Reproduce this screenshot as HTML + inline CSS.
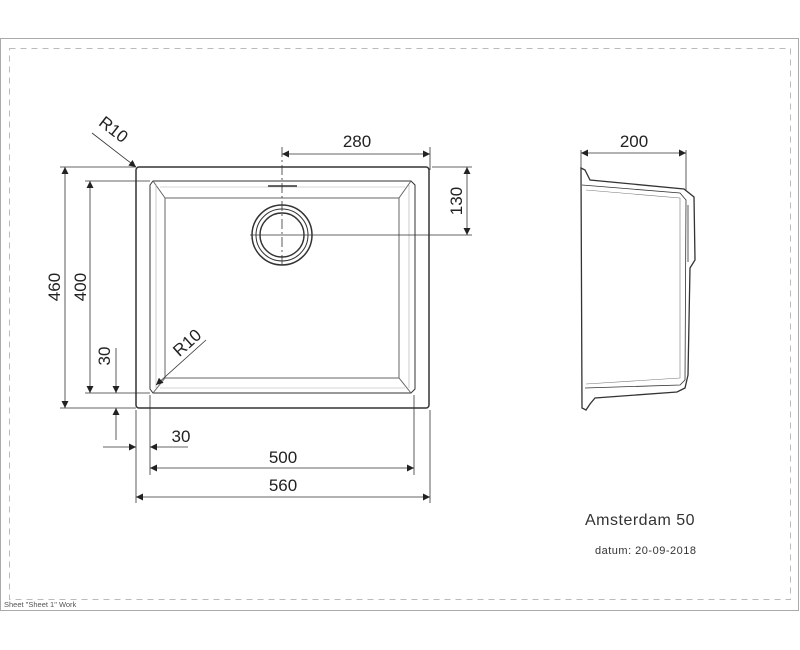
<!DOCTYPE html>
<html><head><style>body{margin:0;background:#fff}svg{display:block}</style></head><body>
<svg width="800" height="650" viewBox="0 0 800 650" xmlns="http://www.w3.org/2000/svg" font-family="Liberation Sans, sans-serif">
<defs><marker id="a" viewBox="0 0 10 10" refX="10" refY="5" markerWidth="12" markerHeight="7" orient="auto-start-reverse" markerUnits="userSpaceOnUse"><path d="M0,0L10,5L0,10z" fill="#222"/></marker></defs>
<rect x="0.5" y="38.5" width="798" height="572" fill="none" stroke="#aaa"/>
<rect x="9.5" y="48.5" width="781" height="551" fill="none" stroke="#bbb" stroke-dasharray="6,5"/>
<g fill="none" stroke="#333" stroke-width="1">
<rect x="136" y="167" width="293" height="241" rx="3" stroke-width="1.5"/>
<path d="M153,181H411L415,185V389L411,393H153L150,389V185Z"/>
<path d="M165,198H399V378H165Z" stroke="#666"/>
<path d="M153,181L165,198M411,181L399,198M411,393L399,378M153,393L165,378" stroke="#666"/>
<path d="M160,187H405M160,388H405M156,185V388M409,185V388" stroke="#aaa" stroke-width="0.6"/>
<line x1="268" y1="186" x2="297" y2="186" stroke-width="1.5"/>
<circle cx="282" cy="235" r="30" stroke-width="1.5"/>
<circle cx="282" cy="235" r="26"/>
<circle cx="282" cy="235" r="22" stroke-width="1.4"/>
</g>
<g stroke="#333" stroke-width="0.8" fill="none">
<line x1="282" y1="147" x2="282" y2="268" stroke-dasharray="10,3,2,3"/>
<line x1="250" y1="235" x2="472" y2="235"/>
<line x1="430" y1="147" x2="430" y2="170"/>
<line x1="432" y1="167" x2="472" y2="167"/>
<line x1="60" y1="167" x2="136" y2="167"/>
<line x1="85" y1="181" x2="150" y2="181"/>
<line x1="60" y1="408" x2="136" y2="408"/>
<line x1="85" y1="393" x2="150" y2="393"/>
<line x1="136" y1="410" x2="136" y2="503"/>
<line x1="150" y1="395" x2="150" y2="475"/>
<line x1="414" y1="395" x2="414" y2="475"/>
<line x1="430" y1="410" x2="430" y2="503"/>
<line x1="282" y1="154" x2="430" y2="154" marker-start="url(#a)" marker-end="url(#a)"/>
<line x1="467" y1="167" x2="467" y2="235" marker-start="url(#a)" marker-end="url(#a)"/>
<line x1="65" y1="167" x2="65" y2="408" marker-start="url(#a)" marker-end="url(#a)"/>
<line x1="90" y1="181" x2="90" y2="393" marker-start="url(#a)" marker-end="url(#a)"/>
<line x1="116" y1="348" x2="116" y2="393" marker-end="url(#a)"/>
<line x1="116" y1="408" x2="116" y2="440" marker-start="url(#a)"/>
<line x1="103" y1="447" x2="136" y2="447" marker-end="url(#a)"/>
<line x1="150" y1="447" x2="188" y2="447" marker-start="url(#a)"/>
<line x1="150" y1="468" x2="414" y2="468" marker-start="url(#a)" marker-end="url(#a)"/>
<line x1="136" y1="497" x2="430" y2="497" marker-start="url(#a)" marker-end="url(#a)"/>
<line x1="92" y1="133" x2="136" y2="167" marker-end="url(#a)"/>
<line x1="206" y1="340" x2="156" y2="385" marker-end="url(#a)"/>
<line x1="581" y1="150" x2="581" y2="170"/>
<line x1="686" y1="150" x2="686" y2="190"/>
<line x1="581" y1="153" x2="686" y2="153" marker-start="url(#a)" marker-end="url(#a)"/>
</g>
<g fill="none" stroke="#333" stroke-width="1.3">
<path d="M581,168L585,170L590,180L684,189L694,197L695,260L690,268L688,375L685,388L677,392L595,398L590,404L586,410L582,408Z"/>
<path d="M582,185L680,193L686,200L685,380L680,385L585,388" stroke-width="0.8"/>
<path d="M586,190L680,198V378L586,384" stroke="#777" stroke-width="0.6"/>
<path d="M688,205V262" stroke-width="0.8"/>
</g>
<g fill="#222" font-size="17">
<text x="357" y="147" text-anchor="middle">280</text>
<text x="462" y="201" text-anchor="middle" transform="rotate(-90 462 201)">130</text>
<text x="60" y="287" text-anchor="middle" transform="rotate(-90 60 287)">460</text>
<text x="86" y="287" text-anchor="middle" transform="rotate(-90 86 287)">400</text>
<text x="110" y="356" text-anchor="middle" transform="rotate(-90 110 356)">30</text>
<text x="181" y="442" text-anchor="middle">30</text>
<text x="283" y="463" text-anchor="middle">500</text>
<text x="283" y="491" text-anchor="middle">560</text>
<text x="634" y="147" text-anchor="middle">200</text>
<text x="110" y="134" text-anchor="middle" transform="rotate(38 110 134)">R10</text>
<text x="191" y="347" text-anchor="middle" transform="rotate(-42 191 347)">R10</text>
<text x="585" y="525" fill="#333" font-size="16" letter-spacing="0.5">Amsterdam 50</text>
<text x="595" y="554" font-size="11" fill="#333" letter-spacing="0.5">datum: 20-09-2018</text>
<text x="4" y="607" font-size="7.5" fill="#555">Sheet "Sheet 1" Work</text>
</g>
</svg>
</body></html>
